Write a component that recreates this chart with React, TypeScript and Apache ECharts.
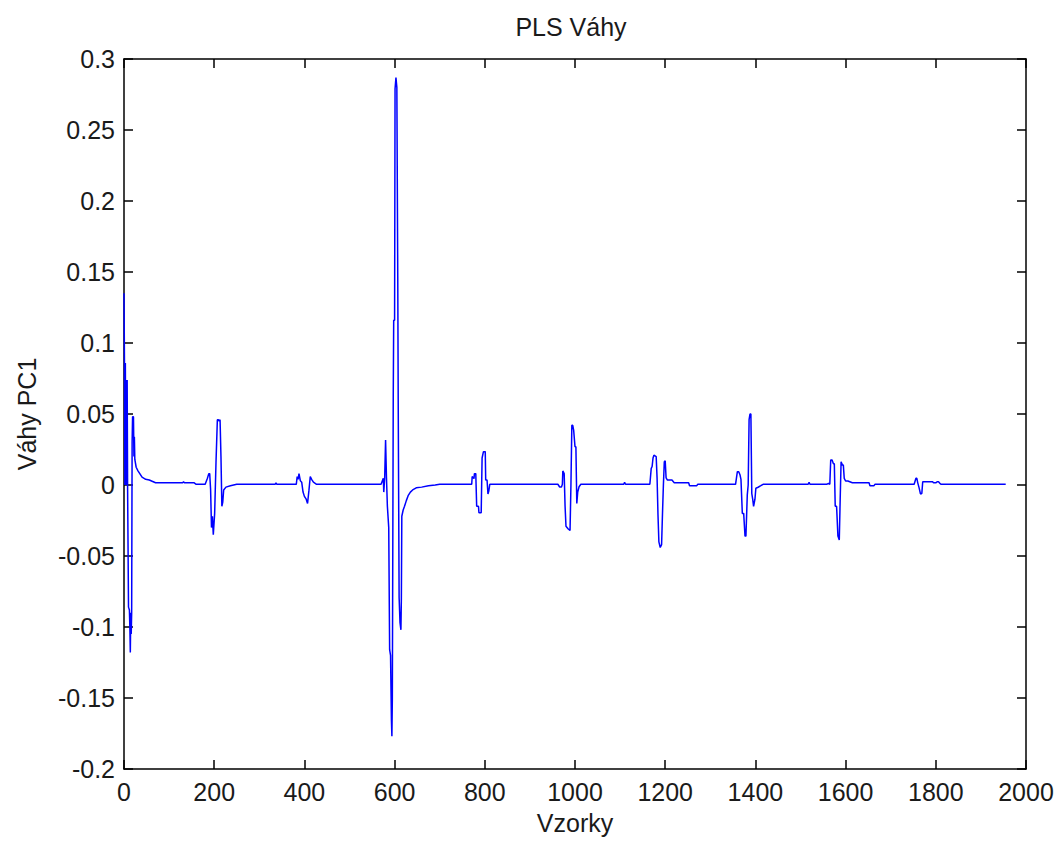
import React, { useEffect, useRef } from "react";
import * as echarts from "echarts";

// Axis ticks
const xTicks = [0, 200, 400, 600, 800, 1000, 1200, 1400, 1600, 1800, 2000];
const yTickLabels = ["-0.2", "-0.15", "-0.1", "-0.05", "0", "0.05", "0.1", "0.15", "0.2", "0.25", "0.3"];

// PLS weights (PC1) as [sample, weight]
const peak0: number[][] = [
  [0, 0.135], [1, 0.087], [2, 0.0], [3, 0.086], [4, 0.0], [5, 0.074], [6, 0.0], [7, 0.074],
  [8, -0.003], [10, -0.086], [12, -0.088], [13, -0.1], [14, -0.118], [15, -0.09], [16, -0.105],
  [17, -0.09], [18, 0.03], [19, 0.048], [21, 0.048], [22, 0.02], [23, 0.034], [24, 0.018],
  [27, 0.0125], [31, 0.01], [35, 0.008], [40, 0.0055], [48, 0.004], [56, 0.0035], [70, 0.0016],
  [130, 0.0016], [132, 0.0022], [134, 0.0016], [155, 0.0016], [160, 0.0005],
];
const peak200: number[][] = [
  [180, 0.0005], [185, 0.0047], [188, 0.008], [190, 0.008], [192, -0.003], [194, -0.03],
  [196, -0.022], [198, -0.035], [201, -0.02], [204, 0.016], [207, 0.046], [209, 0.046],
  [211, 0.045], [213, 0.046], [215, 0.02], [217, -0.015], [219, -0.012], [221, -0.0035],
  [226, -0.0015], [236, -0.0005], [250, 0.0005], [335, 0.0005], [337, 0.0015], [339, 0.0005],
];
const peak400: number[][] = [
  [382, 0.0005], [384, 0.006], [386, 0.004], [388, 0.008], [391, 0.003], [394, 0.002],
  [397, -0.005], [400, -0.008], [404, -0.01], [407, -0.013], [410, -0.004], [413, 0.006],
  [416, 0.004], [420, 0.002], [427, 0.0005],
];
const peak600: number[][] = [
  [570, 0.0005], [575, 0.0047], [576, -0.005], [578, 0.005], [580, 0.0317], [582, 0.005],
  [584, -0.015], [587, -0.03], [589, -0.116], [591, -0.12], [593, -0.166], [594, -0.177],
  [595, -0.15], [597, 0.063], [598, 0.116], [600, 0.116], [601, 0.279], [603, 0.287],
  [605, 0.28], [607, 0.147], [608, 0.06], [610, -0.079], [612, -0.097], [614, -0.102],
  [615, -0.08], [616, -0.022], [619, -0.0176], [622, -0.015], [626, -0.011], [630, -0.0075],
  [635, -0.005], [640, -0.0035], [648, -0.002], [660, -0.0015], [675, -0.0005], [690, 0.0],
  [700, 0.0005],
];
const peak800: number[][] = [
  [768, 0.0005], [771, 0.0005], [772, 0.006], [776, 0.0045], [777, 0.008], [780, 0.008],
  [782, -0.015], [786, -0.015], [787, -0.0195], [792, -0.0195], [794, 0.019], [797, 0.0235],
  [801, 0.0235], [802, 0.0035], [805, 0.0035], [807, -0.0063], [809, -0.004], [811, 0.0005],
];
const peak1000: number[][] = [
  [962, 0.0005], [966, -0.0014], [970, -0.0014], [972, 0.0005], [973, 0.0099], [976, 0.008],
  [978, -0.015], [980, -0.029], [985, -0.031], [989, -0.032], [991, 0.0], [993, 0.042],
  [995, 0.042], [997, 0.0387], [1000, 0.027], [1002, 0.027], [1004, -0.013], [1006, -0.005],
  [1009, -0.0012], [1013, 0.0005], [1108, 0.0005], [1110, 0.0018], [1112, 0.0005],
];
const peak1200: number[][] = [
  [1166, 0.0005], [1169, 0.0117], [1171, 0.013], [1173, 0.019], [1175, 0.021], [1180, 0.02],
  [1182, 0.005], [1184, -0.021], [1186, -0.04], [1189, -0.044], [1192, -0.042], [1194, -0.02],
  [1196, 0.0], [1198, 0.0164], [1200, 0.017], [1202, 0.005], [1205, 0.0035], [1215, 0.0035],
  [1220, 0.0016], [1252, 0.0016], [1254, -0.0005], [1270, -0.0005], [1272, 0.0005],
];
const peak1400: number[][] = [
  [1356, 0.0005], [1360, 0.0094], [1363, 0.0094], [1366, 0.007], [1368, 0.004], [1371, -0.02],
  [1374, -0.02], [1377, -0.036], [1379, -0.036], [1382, -0.007], [1384, 0.0], [1386, 0.046],
  [1388, 0.05], [1390, 0.05], [1392, -0.006], [1394, -0.01], [1396, -0.015], [1399, -0.01],
  [1401, -0.0023], [1406, -0.0016], [1412, -0.0005], [1417, 0.0005], [1517, 0.0005],
  [1519, 0.0018], [1521, 0.0005],
];
const peak1600: number[][] = [
  [1558, 0.0005], [1562, 0.0012], [1565, 0.0005], [1567, 0.0176], [1570, 0.0176], [1573, 0.015],
  [1575, 0.015], [1577, -0.015], [1580, -0.015], [1583, -0.036], [1586, -0.0387], [1588, -0.01],
  [1590, 0.0164], [1593, 0.014], [1595, 0.014], [1597, 0.0047], [1600, 0.0028], [1605, 0.0028],
  [1615, 0.0016], [1652, 0.0016], [1654, -0.0005], [1663, -0.0005], [1665, 0.0005],
];
const peak1800: number[][] = [
  [1752, 0.0005], [1756, 0.0047], [1758, 0.0047], [1760, 0.0015], [1763, -0.002], [1766, -0.0063],
  [1769, -0.006], [1771, 0.0023], [1793, 0.0023], [1795, 0.0015], [1800, 0.0015], [1803, 0.0023],
  [1806, 0.0023], [1809, 0.0012], [1812, 0.0005], [1955, 0.0005],
];

const weights = [
  ...peak0, ...peak200, ...peak400, ...peak600, ...peak800,
  ...peak1000, ...peak1200, ...peak1400, ...peak1600, ...peak1800,
];

const FONT = "'Liberation Sans', Arial, Helvetica, sans-serif";
const TXT = "#1a1a1a";
const FS = 25;

export default function App() {
  const ref = useRef<HTMLDivElement>(null);
  useEffect(() => {
    if (!ref.current) return;
    const chart = echarts.init(ref.current, undefined, { renderer: "svg" });
    const axisLine = { show: true, onZero: false, lineStyle: { color: "#000", width: 1.5 } };
    const tick = { show: true, inside: true, length: 9, lineStyle: { color: "#000", width: 1.5 } };
    const fmtY = (v: number) => {
      const i = Math.round((v + 0.2) / 0.05);
      return yTickLabels[i] ?? "";
    };
    const fmtX = (v: number) => {
      const i = xTicks.indexOf(Math.round(v));
      return i >= 0 ? String(xTicks[i]) : "";
    };
    chart.setOption({
      animation: false,
      backgroundColor: "#fff",
      textStyle: { fontFamily: FONT },
      grid: { left: 124, right: 36, top: 59, bottom: 72, containLabel: false },
      graphic: [
        {
          type: "text",
          x: 571,
          y: 27,
          style: {
            text: "PLS Váhy",
            fontSize: FS,
            fontFamily: FONT,
            fill: TXT,
            textAlign: "center",
            textVerticalAlign: "middle",
          },
        },
      ],
      xAxis: [
        {
          type: "value",
          min: xTicks[0],
          max: xTicks[xTicks.length - 1],
          interval: 200,
          position: "bottom",
          name: "Vzorky",
          nameLocation: "middle",
          nameGap: 41,
          nameTextStyle: { fontSize: FS, color: TXT, fontFamily: FONT },
          axisLine,
          axisTick: tick,
          axisLabel: { fontSize: FS, color: TXT, margin: 10, fontFamily: FONT, formatter: fmtX },
          splitLine: { show: false },
        },
        {
          type: "value",
          min: xTicks[0],
          max: xTicks[xTicks.length - 1],
          interval: 200,
          position: "top",
          axisLine,
          axisTick: tick,
          axisLabel: { show: false },
          splitLine: { show: false },
        },
      ],
      yAxis: [
        {
          type: "value",
          min: -0.2,
          max: 0.3,
          interval: 0.05,
          position: "left",
          name: "Váhy PC1",
          nameLocation: "middle",
          nameGap: 85,
          nameRotate: 90,
          nameTextStyle: { fontSize: FS, color: TXT, fontFamily: FONT },
          axisLine,
          axisTick: tick,
          axisLabel: { fontSize: FS, color: TXT, margin: 9, fontFamily: FONT, formatter: fmtY },
          splitLine: { show: false },
        },
        {
          type: "value",
          min: -0.2,
          max: 0.3,
          interval: 0.05,
          position: "right",
          axisLine,
          axisTick: tick,
          axisLabel: { show: false },
          splitLine: { show: false },
        },
      ],
      series: [
        {
          type: "line",
          xAxisIndex: 0,
          yAxisIndex: 0,
          data: weights,
          showSymbol: false,
          symbol: "none",
          lineStyle: { color: "#0000ff", width: 1.5 },
          silent: true,
        },
      ],
    });
    return () => chart.dispose();
  }, []);
  return (
    <div
      ref={ref}
      style={{ position: "absolute", left: 0, top: 0, width: 1062, height: 841, background: "#fff" }}
    />
  );
}
